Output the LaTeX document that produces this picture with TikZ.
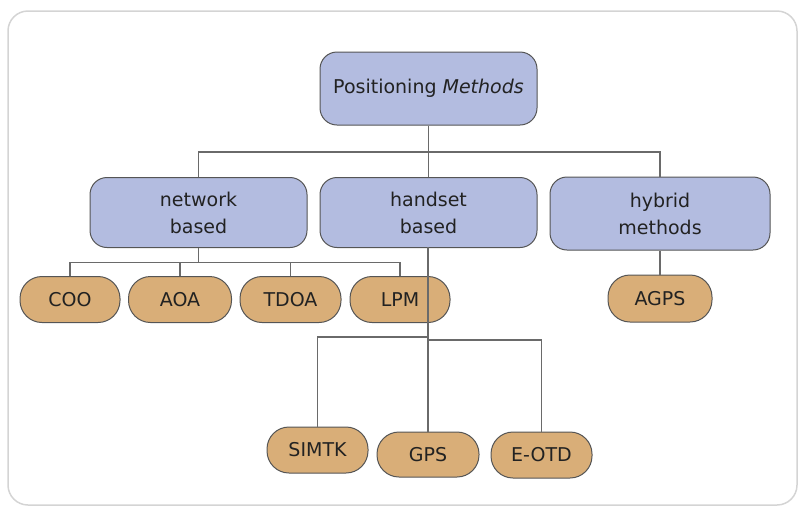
\documentclass[tikz,border=0pt]{standalone}
\usepackage{fontspec}
\setmainfont{DejaVu Sans}
\definecolor{catfill}{HTML}{B3BCE0}
\definecolor{leaffill}{HTML}{D9AE78}
\definecolor{edgegrey}{HTML}{555555}
\definecolor{wiregrey}{HTML}{6A6A6A}
\definecolor{framegrey}{HTML}{D4D4D4}
\definecolor{inkgrey}{HTML}{222222}
\begin{document}
\begin{tikzpicture}[x=1pt,y=-1pt,
  box/.style={draw=edgegrey, line width=1pt, inner sep=0pt, align=center,
    text=inkgrey, font=\fontsize{19}{27}\selectfont},
  catbox/.style={box, fill=catfill, rounded corners=17pt,
    minimum width=217pt, minimum height=70pt},
  leafbox/.style={box, fill=leaffill, rounded corners=22pt,
    minimum width=101pt, minimum height=46pt},
  wire/.style={draw=wiregrey, line width=1.3pt}]
\useasboundingbox (0,0) rectangle (799,507);
% outer frame
\draw[framegrey, line width=1.5pt, rounded corners=20pt] (8,11) rectangle (797,505);

% root and categories
\node[catbox, minimum height=73pt] (root) at (428.5,88.5) {Positioning \textit{Methods}};
\node[catbox] (net)  at (198.5,212.5) {network\\based};
\node[catbox] (hand) at (428.5,212.5) {handset\\based};
\node[catbox, minimum width=220pt, minimum height=73pt] (hyb) at (660,213.5) {hybrid\\methods};

% network based methods
\node[leafbox, minimum width=100pt] (coo)  at (70,299.5)  {COO};
\node[leafbox, minimum width=103pt] (aoa)  at (180,299.5) {AOA};
\node[leafbox] (tdoa) at (290.5,299.5) {TDOA};
\node[leafbox, minimum width=100pt] (lpm)  at (400,299.5) {LPM};

% hybrid
\node[leafbox, minimum width=104pt, minimum height=47pt] (agps) at (660,298.5) {AGPS};

% handset based methods
\node[leafbox] (simtk) at (317.5,450) {SIMTK};
\node[leafbox, minimum width=102pt, minimum height=45pt] (gps) at (428,454.5) {GPS};
\node[leafbox] (eotd) at (541.5,455) {E-OTD};

% root to categories
\coordinate (rj) at (428.5,152);
\draw[wire] (root.south) -- (rj);
\draw[wire] (net.north) |- (rj) -| (hyb.north);
\draw[wire] (rj) -- (hand.north);

% network based tree
\coordinate (nj) at (198.5,262.5);
\draw[wire] (net.south) -- (nj);
\draw[wire] (coo.north) |- (nj) -| (lpm.north);
\draw[wire] (aoa.north) -- (aoa.north |- nj);
\draw[wire] (tdoa.north) -- (tdoa.north |- nj);

% hybrid
\draw[wire] (hyb.south) -- (agps.north);

% handset based tree
\coordinate (hjl) at (428,337);
\coordinate (hjr) at (428,340);
\draw[wire] (428,247) -- (gps.north);
\draw[wire] (hjl) -| (simtk.north);
\draw[wire] (hjr) -| (eotd.north);
\end{tikzpicture}
\end{document}
